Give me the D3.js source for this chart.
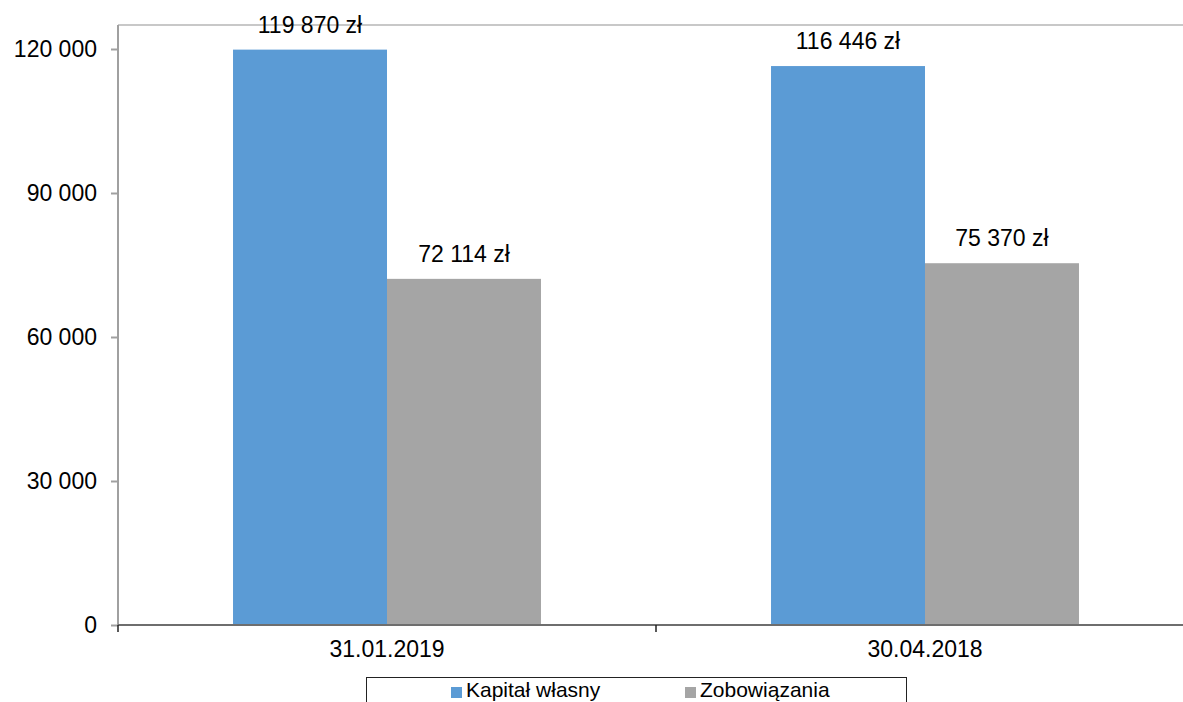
<!DOCTYPE html>
<html>
<head>
<meta charset="utf-8">
<script src="https://cdn.jsdelivr.net/npm/d3@7/dist/d3.min.js"></script>
<style>
  html, body { margin: 0; padding: 0; background: #fff; }
  svg { display: block; font-family: "Liberation Sans", Arial, sans-serif; }
</style>
</head>
<body>
<svg id="chart" width="1183" height="702"></svg>
<script>
const categories = ["31.01.2019", "30.04.2018"];
const seriesNames = ["Kapitał własny", "Zobowiązania"];
const kapitalWlasny = [119870, 116446];
const zobowiazania = [72114, 75370];
const yTicks = [0, 30000, 60000, 90000, 120000];
const colors = ["#5B9BD5", "#A5A5A5"];

(function () {
const seriesValues = [kapitalWlasny, zobowiazania];
const svg = d3.select("#chart");
const W = 1183;
const mLeft = 118, mTop = 25, mBottom = 625, mRight = 1194;

const fmt = v => d3.format(",")(v).replace(/,/g, " ");

const x = d3.scaleBand().domain(categories).range([mLeft, mRight]).paddingInner(0).paddingOuter(0);
const xs = d3.scaleBand().domain(seriesNames).range([0, x.bandwidth()]).paddingInner(0).paddingOuter(0.747);
const y = d3.scaleLinear().domain([0, 125000]).range([mBottom, mTop]);

// top border
svg.append("line").attr("x1", mLeft).attr("x2", W).attr("y1", mTop).attr("y2", mTop)
  .attr("stroke", "#c8c8c8").attr("stroke-width", 2);

// bars
const data = [];
categories.forEach((c, i) => seriesNames.forEach((s, j) => data.push({c, s, j, v: seriesValues[j][i]})));

svg.append("g").selectAll("rect").data(data).join("rect")
  .attr("x", d => x(d.c) + xs(d.s))
  .attr("width", xs.bandwidth())
  .attr("y", d => y(d.v))
  .attr("height", d => y(0) - y(d.v))
  .attr("fill", d => colors[d.j]);

// data labels
svg.append("g").selectAll("text").data(data).join("text")
  .attr("x", d => x(d.c) + xs(d.s) + xs.bandwidth() / 2)
  .attr("y", d => y(d.v) - 17)
  .attr("text-anchor", "middle")
  .attr("font-size", 23)
  .attr("fill", "#000")
  .text(d => fmt(d.v) + " zł");

// y axis
const yAxis = svg.append("g").attr("transform", `translate(${mLeft},0)`)
  .call(d3.axisLeft(y).tickValues(yTicks).tickFormat(fmt).tickSize(7).tickPadding(14));
yAxis.select(".domain").attr("stroke", "#a0a0a0").attr("stroke-width", 2)
  .attr("d", `M0,${mTop}V${mBottom}`);
yAxis.selectAll(".tick line").attr("stroke", "#a0a0a0").attr("stroke-width", 2);
yAxis.selectAll(".tick text").attr("font-size", 23).attr("fill", "#000")
  .attr("font-family", "Liberation Sans, Arial, sans-serif");

// x axis
const xAxis = svg.append("g").attr("transform", `translate(0,${mBottom})`)
  .call(d3.axisBottom(x).tickSize(0).tickPadding(16));
xAxis.select(".domain").attr("stroke", "#6e6e6e").attr("stroke-width", 2)
  .attr("d", `M${mLeft},0H${mRight}`);
xAxis.selectAll(".tick text").attr("font-size", 23).attr("fill", "#000")
  .attr("font-family", "Liberation Sans, Arial, sans-serif");
// category boundary ticks
const bounds = categories.map(c => x(c));
svg.append("g").selectAll("line").data(bounds).join("line")
  .attr("x1", d => d).attr("x2", d => d)
  .attr("y1", mBottom).attr("y2", mBottom + 7)
  .attr("stroke", "#222").attr("stroke-width", 1.5);

// legend
const lg = svg.append("g");
lg.append("rect").attr("x", 366.5).attr("y", 677.5).attr("width", 540).attr("height", 40)
  .attr("fill", "#fff").attr("stroke", "#222").attr("stroke-width", 1);
const legendX = [451, 685];
seriesNames.forEach((s, j) => {
  lg.append("rect").attr("x", legendX[j]).attr("y", 687).attr("width", 11).attr("height", 11).attr("fill", colors[j]);
  lg.append("text").attr("x", legendX[j] + 15).attr("y", 697).attr("font-size", 21).attr("fill", "#000").text(s);
});
})();
</script>
</body>
</html>
